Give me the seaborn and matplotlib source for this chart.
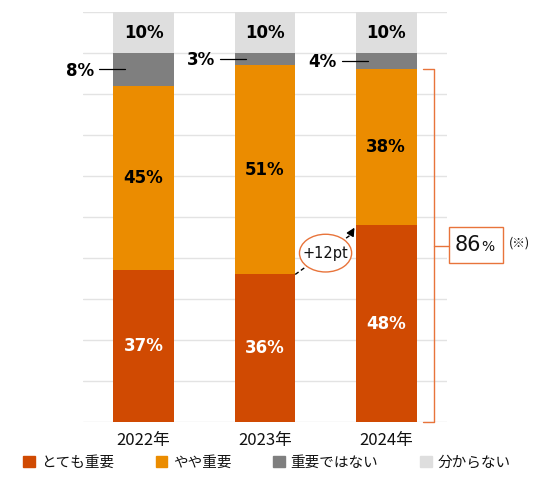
import matplotlib.pyplot as plt
import matplotlib.patches as mpatches
import seaborn as sns
import numpy as np

years = ['2022年', '2023年', '2024年']
very_important = [37, 36, 48]
somewhat_important = [45, 51, 38]
not_important = [8, 3, 4]
dont_know = [10, 10, 10]
series_labels = ['とても重要', 'やや重要', '重要ではない', '分からない']
colors = ['#D04A02', '#EB8C00', '#7F7F7F', '#DEDEDE']

sns.set_style('white')
plt.rcParams['font.family'] = ['Noto Sans CJK JP', 'DejaVu Sans']
plt.rcParams['text.color'] = '#111111'
plt.rcParams['xtick.color'] = '#111111'

fig = plt.figure(figsize=(5.45, 5.03), dpi=100)
ax = fig.add_axes([0.152, 0.161, 0.668, 0.815])

layers = [very_important, somewhat_important, not_important, dont_know]
cum = np.cumsum(np.array(layers), axis=0)

# stacked by overdrawing cumulative totals, tallest first
for i in range(3, -1, -1):
    sns.barplot(x=years, y=cum[i], color=colors[i], saturation=1,
                width=0.5, linewidth=0, edgecolor='none', ax=ax, zorder=2)

ax.set_ylim(0, 100)
ax.set_xlim(-0.5, 2.5)
ax.set_yticks(np.arange(0, 101, 10))
ax.yaxis.grid(True, color='#E3E3E3', lw=1)
ax.set_axisbelow(True)
ax.set_yticklabels([])
ax.tick_params(axis='y', length=0)
ax.tick_params(axis='x', length=0, pad=7, labelsize=12)
ax.set_xlabel('')
ax.set_ylabel('')
sns.despine(ax=ax, left=True, bottom=True)

# segment labels
for j in range(3):
    ax.text(j, very_important[j] / 2, f'{very_important[j]}%', ha='center', va='center',
            color='white', fontsize=12, fontweight='bold', family='DejaVu Sans')
    ax.text(j, cum[0][j] + somewhat_important[j] / 2, f'{somewhat_important[j]}%',
            ha='center', va='center', color='black', fontsize=12, fontweight='bold',
            family='DejaVu Sans')
    ax.text(j, cum[2][j] + dont_know[j] / 2, f'{dont_know[j]}%', ha='center', va='center',
            color='black', fontsize=12, fontweight='bold', family='DejaVu Sans')
    mid = cum[1][j] + not_important[j] / 2
    x0, x1 = j - 0.367, j - 0.153
    ax.plot([x0, x1], [mid, mid], color='black', lw=0.9, zorder=3)
    ax.text(x0 - 0.04, mid - 0.3, f'{not_important[j]}%', ha='right', va='center',
            color='black', fontsize=12, fontweight='bold', family='DejaVu Sans')

# +12pt arrow
ax.plot([1.25, 1.70], [very_important[1], very_important[2] - 2.5], color='black',
        lw=1, ls=(0, (3, 2)), zorder=4)
ax.annotate('', xy=(1.75, very_important[2]), xytext=(1.70, very_important[2] - 2.5),
            arrowprops=dict(arrowstyle='-|>', color='black', lw=1,
                            mutation_scale=12), zorder=4)
ax.add_patch(mpatches.Ellipse((1.5, 41.2), 0.43, 9.2, facecolor='white',
                              edgecolor='#E8743B', lw=1, zorder=5))
ax.text(1.5, 41.2, '+12pt', ha='center', va='center', fontsize=10.5,
        family='DejaVu Sans', zorder=6)

# bracket with total
total = very_important[2] + somewhat_important[2]
bx = 2.39
ax.plot([2.30, bx, bx, 2.30], [total, total, 0, 0], color='#E8743B', lw=1,
        clip_on=False, zorder=3)
ax.plot([bx, 2.52], [total / 2, total / 2], color='#E8743B', lw=1, clip_on=False)
ax.add_patch(mpatches.Rectangle((2.52, 38.8), 0.44, 8.8, facecolor='white',
                                edgecolor='#E8743B', lw=1, clip_on=False))
ax.text(2.67, 43.2, f'{total}', ha='center', va='center', fontsize=15,
        family='DejaVu Sans', clip_on=False)
ax.text(2.835, 42.6, '%', ha='center', va='center', fontsize=10,
        family='DejaVu Sans', clip_on=False)
ax.text(3.10, 43.6, '(※)', ha='center', va='center', fontsize=9, clip_on=False)

handles = [mpatches.Patch(color=c, label=l) for c, l in zip(colors, series_labels)]
fig.legend(handles=handles, loc='lower center', bbox_to_anchor=(0.49, 0.04), ncol=4,
           frameon=False, fontsize=10.5, handlelength=0.8, handleheight=0.8,
           handletextpad=0.4, columnspacing=2.85)

fig.savefig('out.png', dpi=100)
